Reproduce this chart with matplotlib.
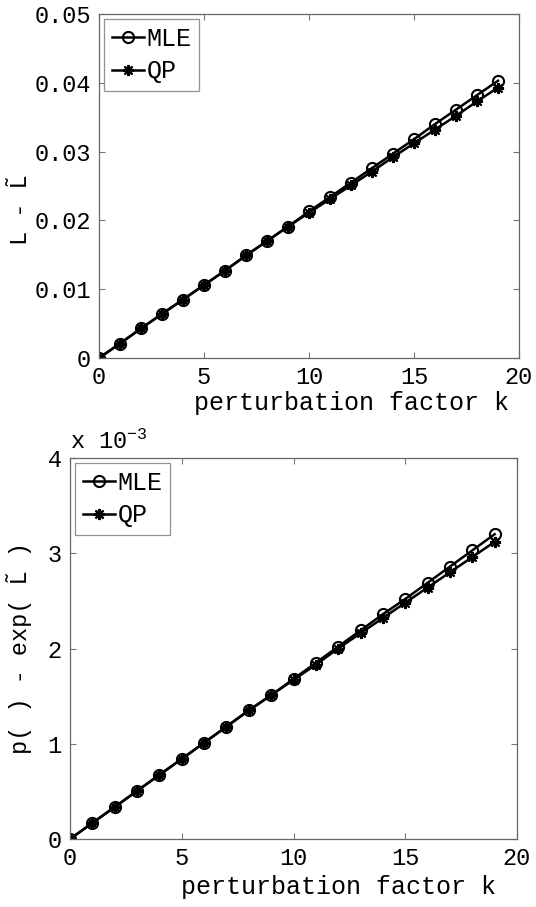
import matplotlib
matplotlib.use('agg')
from matplotlib import pyplot as plt

plt.rcParams['font.family'] = ['Liberation Mono', 'DejaVu Sans Mono']
plt.rcParams['mathtext.fontset'] = 'custom'
plt.rcParams['mathtext.rm'] = 'Liberation Mono'
plt.rcParams['mathtext.it'] = 'Liberation Mono'

k = list(range(20))

# top panel: L - L~
mle_top = [0, 0.0021, 0.0043, 0.0064, 0.0085, 0.0106, 0.0127, 0.0149, 0.0170, 0.0191,
           0.0213, 0.0234, 0.0255, 0.0276, 0.0297, 0.0318, 0.0340, 0.0361, 0.0382, 0.0403]
qp_top = [0, 0.0021, 0.0043, 0.0064, 0.0085, 0.0106, 0.0127, 0.0149, 0.0170, 0.0191,
          0.0211, 0.0231, 0.0251, 0.0271, 0.0292, 0.0312, 0.0332, 0.0352, 0.0373, 0.0393]

# bottom panel: p() - exp(L~), in units of 1e-3
mle_bot = [0, 0.168, 0.336, 0.505, 0.673, 0.841, 1.01, 1.18, 1.35, 1.51,
           1.68, 1.85, 2.02, 2.19, 2.36, 2.52, 2.69, 2.86, 3.03, 3.20]
qp_bot = [0, 0.168, 0.336, 0.505, 0.673, 0.841, 1.01, 1.18, 1.35, 1.51,
          1.67, 1.83, 2.00, 2.16, 2.32, 2.48, 2.64, 2.80, 2.96, 3.12]

fig = plt.figure(figsize=(5.36, 9.07), dpi=100)
ax1 = fig.add_axes([99 / 536, 1 - 358 / 907, 420 / 536, 344 / 907])
ax2 = fig.add_axes([70 / 536, 1 - 839 / 907, 447 / 536, 381 / 907])

fs = 17
asterisk = (8, 2, 0)
for ax, mle, qp, ymax in [(ax1, mle_top, qp_top, 0.05), (ax2, mle_bot, qp_bot, 4)]:
    ax.plot(k, mle, '-o', color='black', lw=1.8, ms=8, mfc='none', mew=1.5, label='MLE')
    ax.plot(k, qp, '-', marker=asterisk, color='black', lw=1.8, ms=8, mew=1.5, label='QP')
    ax.set_xlim(0, 20)
    ax.set_ylim(0, ymax)
    ax.set_xticks([0, 5, 10, 15, 20])
    ax.tick_params(direction='in', top=True, right=True, length=4, width=0.8,
                   color='#777777', labelsize=fs, pad=6)
    for s in ax.spines.values():
        s.set_color('#666666')
        s.set_linewidth(0.9)
    leg = ax.legend(loc='upper left', fontsize=fs + 1, handlelength=1.3, handletextpad=0.1,
                    borderaxespad=0.2, borderpad=0.3, labelspacing=0.35, fancybox=False)
    leg.get_frame().set_edgecolor('#777777')
    leg.get_frame().set_linewidth(0.9)
    ax.set_xlabel('perturbation factor k', fontsize=fs + 1)

ax1.set_yticks([0, 0.01, 0.02, 0.03, 0.04, 0.05])
ax1.set_yticklabels(['0', '0.01', '0.02', '0.03', '0.04', '0.05'])
ax2.set_yticks([0, 1, 2, 3, 4])
ax2.set_yticklabels(['0', '1', '2', '3', '4'])

ax1.set_ylabel('L - L\u0303', fontsize=fs)
ax1.yaxis.set_label_coords(-0.16, 0.43)
ax1.xaxis.set_label_coords(0.6, -0.095)

ax2.set_ylabel('p( ) - exp( L\u0303 )', fontsize=fs)
ax2.yaxis.set_label_coords(-0.085, 0.5)
ax2.xaxis.set_label_coords(0.6, -0.095)
ax2.text(0.0, 1.01, r'x 10$^{-3}$', transform=ax2.transAxes, fontsize=fs,
         ha='left', va='bottom')

fig.savefig('out.png', dpi=100)
